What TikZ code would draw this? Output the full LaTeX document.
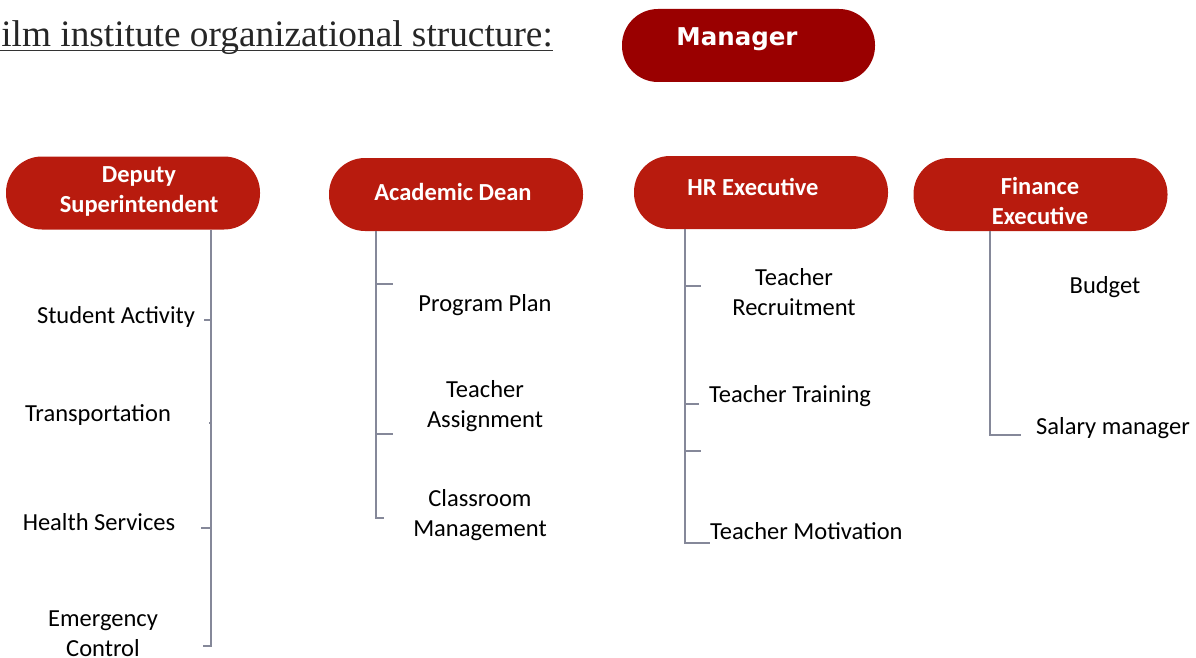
\documentclass[tikz,border=0pt]{standalone}
\usepackage{fontspec}
\setmainfont{Carlito}
\newfontfamily\titlefont{Liberation Serif}
\newfontfamily\mgrfont{DejaVu Sans}
\definecolor{mgrred}{HTML}{9A0000}
\definecolor{boxred}{HTML}{B81B0E}
\definecolor{linegray}{HTML}{858899}
\begin{document}
\begin{tikzpicture}[x=1pt,y=-1pt,
  box/.style={fill=boxred,draw=none,minimum width=254pt,minimum height=73pt,rounded corners=36pt,inner sep=0pt},
  mbox/.style={fill=mgrred,draw=none,minimum width=253pt,minimum height=73pt,rounded corners=36pt,inner sep=0pt},
  btext/.style={text=white,font=\bfseries\fontsize{24.5}{29.5}\selectfont,align=center,inner sep=0pt},
  leaf/.style={font=\fontsize{24.5}{30}\selectfont,align=center,inner sep=0pt,text=black},
  conn/.style={draw=linegray,line width=1.2pt},
]
\useasboundingbox (0,0) rectangle (1196,658);
\clip (0,0) rectangle (1196,658);
% title
\node[anchor=base east,inner sep=0pt,font=\titlefont\fontsize{37.3}{40}\selectfont,text=black!85] (title) at (553,47) {Film institute organizational structure:};
\draw[black!80,line width=1.4pt] (0,50.8) -- (title.base east |- 0,50.8);
% manager
\node[mbox] (mgrbox) at (748.5,45.5) {};
\node[text=white,inner sep=0pt,font=\mgrfont\bfseries\fontsize{24.5}{28}\selectfont] (mgr) at (737,39) {Manager};
% level 2 boxes
\node[box] (depbox) at (133,193) {};
\node[btext] (dep) at (139,191.5) {Deputy\\Superintendent};
\node[box] (acabox) at (456,194.5) {};
\node[btext] (aca) at (453,192) {Academic Dean};
\node[box] (hrbox) at (761,192.5) {};
\node[btext] (hr) at (753,187) {HR Executive};
\node[box] (finbox) at (1040.5,194.5) {};
\node[btext] (fin) at (1040,201) {Finance\\Executive};
% leaves deputy
\node[leaf] (sa) at (116,317) {Student Activity};
\node[leaf] (tr) at (98,415) {Transportation};
\node[leaf] (hs) at (99,522) {Health Services};
\node[leaf] (ec) at (103,634) {Emergency\\Control};
% leaves academic
\node[leaf] (pp) at (485,305) {Program Plan};
\node[leaf] (ta) at (485,406) {Teacher\\Assignment};
\node[leaf] (cm) at (480,515) {Classroom\\Management};
% leaves hr
\node[leaf] (trc) at (794,292) {Teacher\\Recruitment};
\node[leaf] (tt) at (790,396) {Teacher Training};
\node[leaf,anchor=west] (tm) at (710,531) {Teacher Motivation};
% leaves finance
\node[leaf] (bu) at (1105,287) {Budget};
\node[leaf,anchor=west] (sm) at (1036,428) {Salary manager};
% connectors deputy
\coordinate (d1) at (204,320);
\coordinate (d2) at (209,423);
\coordinate (d3) at (201,528);
\coordinate (d4) at (203,646);
\draw[conn] (depbox.south -| 211,0) -- (211,646) -- (d4);
\draw[conn] (211,320) -- (d1);
\draw[conn] (211,423) -- (d2);
\draw[conn] (211,528) -- (d3);
% connectors academic
\coordinate (a1) at (393,284);
\coordinate (a2) at (393,434);
\coordinate (a3) at (384,518);
\draw[conn] (acabox.south -| 376,0) -- (376,518) -- (a3);
\draw[conn] (376,284) -- (a1);
\draw[conn] (376,434) -- (a2);
% connectors hr
\coordinate (h1) at (701,286);
\coordinate (h2) at (699,404);
\coordinate (h3) at (701,451);
\draw[conn] (hrbox.south -| 685,0) -- (685,543) -- (tm.west |- 685,543);
\draw[conn] (685,286) -- (h1);
\draw[conn] (685,404) -- (h2);
\draw[conn] (685,451) -- (h3);
% connectors finance
\draw[conn] (finbox.south -| 990,0) -- (990,435) -- (1021,435);
\end{tikzpicture}
\end{document}
